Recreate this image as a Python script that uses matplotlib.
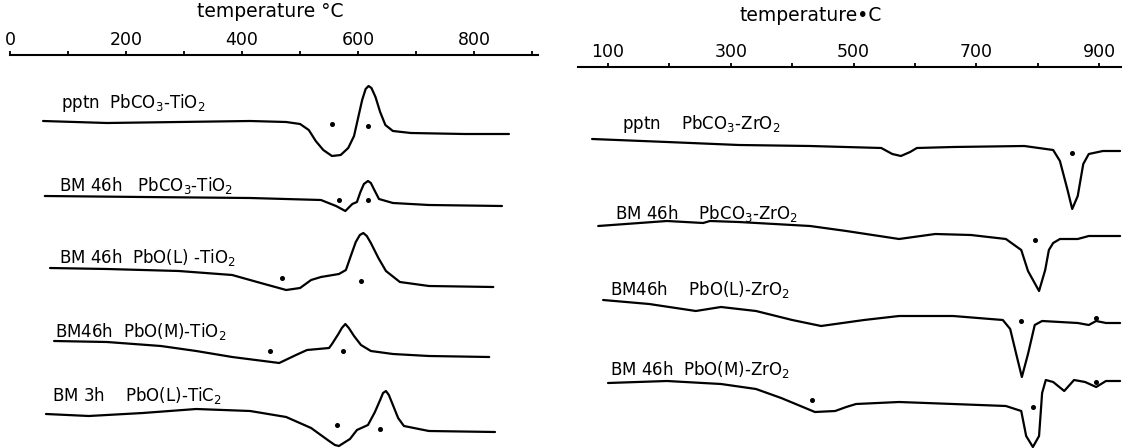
"""DTA traces of PbO/PbCO3 mixed with TiO2 (left) and ZrO2 (right)."""

import matplotlib.pyplot as plt
import numpy as np

W, H = 1129, 448

# ---- left panel: PbX - TiO2 --------------------------------------------
# deflections (arb. units, exo up), relative to trace start
ti_labels = [r"pptn  PbCO$_3$-TiO$_2$",
             r"BM 46h   PbCO$_3$-TiO$_2$",
             r"BM 46h  PbO(L) -TiO$_2$",
             r"BM46h  PbO(M)-TiO$_2$",
             r"BM 3h    PbO(L)-TiC$_2$"]
ti_offsets = [327, 252, 180, 107, 34]

ti1_T = [57, 167, 291, 414, 476, 500, 515, 527, 540, 555, 570, 583, 593, 600, 607,
         613, 618, 623, 630, 638, 647, 660, 691, 783, 860]
ti1_s = [0, -2, -1, 0, -1, -3, -9, -20, -29, -35, -34, -27, -15, 3, 21,
         32, 35, 33, 24, 9, -4, -10, -12, -13, -13]
ti2_T = [60, 229, 414, 536, 562, 578, 590, 598, 604, 610, 617, 622, 628, 636, 660, 722, 848]
ti2_s = [0, -1, -2, -4, -10, -15, -8, -6, 4, 12, 15, 13, 6, -3, -7, -9, -10]
ti3_T = [69, 167, 291, 383, 426, 476, 500, 519, 536, 567, 579, 588, 596, 603, 609,
         615, 622, 635, 648, 672, 722, 833]
ti3_s = [0, -1, -3, -7, -14, -22, -20, -12, -9, -6, -2, 13, 26, 33, 35,
         32, 25, 10, -3, -14, -18, -19]
ti4_T = [76, 167, 260, 321, 383, 464, 493, 512, 550, 555, 566, 572, 578, 584, 593,
         605, 622, 660, 722, 826]
ti4_s = [0, -1, -5, -10, -16, -22, -14, -9, -7, -3, 7, 13, 17, 13, 5,
         -4, -10, -13, -15, -16]
ti5_T = [62, 136, 229, 321, 414, 476, 519, 550, 560, 567, 575, 586, 598, 617, 629,
         638, 643, 648, 653, 660, 669, 679, 722, 836]
ti5_s = [0, -2, 1, 5, 3, -3, -14, -27, -31, -32, -29, -25, -16, -11, 2,
         14, 21, 23, 19, 9, -4, -12, -17, -18]

# peak-temperature dots
ti_dot_T = [[555, 617], [567, 617], [469, 605], [448, 574], [564, 638]]
ti_dot_s = [[-3, -5], [-4, -4], [-10, -13], [-10, -10], [-11, -15]]

# ---- right panel: PbX - ZrO2 --------------------------------------------
zr_labels = [r"pptn    PbCO$_3$-ZrO$_2$",
             r"BM 46h    PbCO$_3$-ZrO$_2$",
             r"BM46h    PbO(L)-ZrO$_2$",
             r"BM 46h  PbO(M)-ZrO$_2$"]
zr_offsets = [309, 222, 148, 65]

zr1_T = [74, 196, 313, 429, 545, 563, 577, 592, 603, 662, 778, 825, 836, 848, 856,
         865, 874, 883, 906, 934]
zr1_s = [0, -3, -6, -7, -9, -15, -17, -13, -9, -8, -7, -11, -22, -50, -70,
         -57, -25, -15, -12, -12]
zr2_T = [84, 196, 255, 266, 313, 429, 488, 574, 633, 691, 748, 773, 784, 802, 812,
         818, 825, 836, 865, 883, 934]
zr2_s = [0, 5, 3, 5, 4, 0, -5, -13, -8, -9, -13, -24, -45, -65, -44,
         -24, -17, -13, -13, -10, -10]
zr3_T = [92, 167, 243, 284, 341, 400, 447, 517, 574, 662, 743, 755, 766, 774, 784,
         795, 807, 865, 883, 895, 911, 934]
zr3_s = [0, -4, -11, -7, -11, -20, -26, -20, -16, -16, -20, -29, -57, -77, -54,
         -25, -21, -23, -25, -21, -23, -23]
zr4_T = [100, 196, 284, 341, 382, 437, 470, 488, 504, 574, 662, 748, 773, 781, 792,
         802, 807, 813, 825, 843, 859, 877, 895, 911, 934]
zr4_s = [0, 2, -1, -6, -15, -29, -28, -24, -21, -19, -21, -23, -28, -53, -64,
         -53, -10, 3, 1, -8, 3, 1, -4, 2, 2]

zr_dot_T = [[856], [795], [773, 895], [432, 792, 895]]
zr_dot_s = [[-14], [-14], [-21, -18], [-17, -24, 1]]

ti_label_T = [88, 84, 84, 78, 72]
ti_label_dy = [18, 10, 10, 9, 19]
zr_label_T = [123, 111, 103, 103]
zr_label_dy = [15, 13, 11, 14]

LW = 1.6
FS = 12


def draw_panel(ax, curves, offsets, dots_T, dots_s, labels, lab_T, lab_dy):
    for (T, s), off, dT, ds, lab, lx, ly in zip(curves, offsets, dots_T, dots_s,
                                                 labels, lab_T, lab_dy):
        ax.plot(T, off + np.array(s), color="black", lw=LW,
                solid_joinstyle="round", solid_capstyle="round")
        ax.plot(dT, off + np.array(ds), "o", color="black", ms=2.6)
        ax.text(lx, off + ly, lab, fontsize=FS, va="center", ha="left")


def style_axis(ax, major, minor, bounds):
    for side in ("left", "right", "bottom"):
        ax.spines[side].set_visible(False)
    ax.spines["top"].set_linewidth(1.5)
    ax.spines["top"].set_bounds(*bounds)
    ax.xaxis.tick_top()
    ax.set_xticks(major)
    ax.set_xticks(minor, minor=True)
    ax.tick_params(axis="x", which="both", direction="out", length=3, width=1.3,
                   pad=1.5, labelsize=12.5)
    ax.set_yticks([])


fig = plt.figure(figsize=(W / 100, H / 100), dpi=100)

axL = fig.add_axes([0, 0, 560 / W, (H - 55) / H])
axL.set_xlim(-17.2, 948)
axL.set_ylim(0, H - 55)
draw_panel(axL,
           [(ti1_T, ti1_s), (ti2_T, ti2_s), (ti3_T, ti3_s), (ti4_T, ti4_s), (ti5_T, ti5_s)],
           ti_offsets, ti_dot_T, ti_dot_s, ti_labels, ti_label_T, ti_label_dy)
style_axis(axL, [0, 200, 400, 600, 800], [100, 300, 500, 700, 900], (0, 910))
axL.set_xlabel("temperature °C", fontsize=13.5, va="center")
axL.xaxis.set_label_position("top")
axL.xaxis.set_label_coords(0.482, 1.097)

axR = fig.add_axes([560 / W, 0, 569 / W, (H - 67) / H])
axR.set_xlim(21.8, 948.5)
axR.set_ylim(0, H - 67)
draw_panel(axR,
           [(zr1_T, zr1_s), (zr2_T, zr2_s), (zr3_T, zr3_s), (zr4_T, zr4_s)],
           zr_offsets, zr_dot_T, zr_dot_s, zr_labels, zr_label_T, zr_label_dy)
style_axis(axR, [100, 300, 500, 700, 900], [200, 400, 600, 800], (51, 935))
axR.set_xlabel("temperature•C", fontsize=13.5, va="center")
axR.xaxis.set_label_position("top")
axR.xaxis.set_label_coords(0.441, 1.121)

fig.savefig("out.png", dpi=100)
